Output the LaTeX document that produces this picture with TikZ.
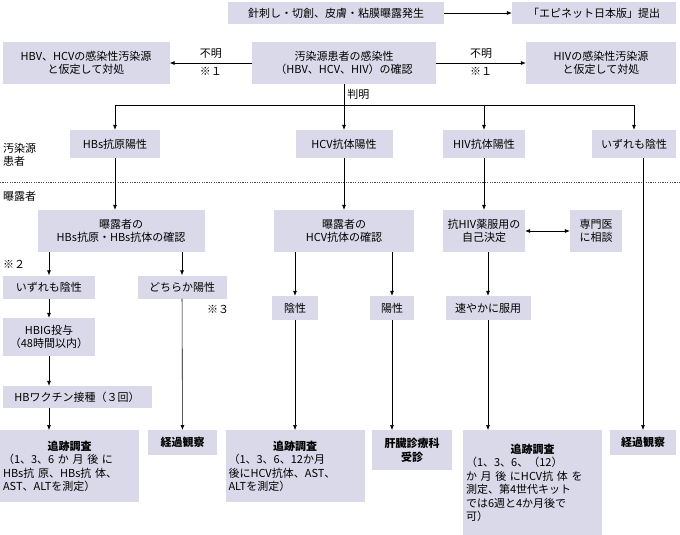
\documentclass[tikz,border=0pt]{standalone}
\usepackage{fontspec}
\setmainfont{Noto Sans CJK JP}
\usetikzlibrary{arrows.meta}
\definecolor{bx}{HTML}{D9D9E9}
\begin{document}
\begin{tikzpicture}[x=1pt,y=-1pt,
  box/.style={fill=bx,align=center,inner sep=1pt,font=\fontsize{11}{13.5}\selectfont},
  det/.style={box,align=left,anchor=north,inner xsep=3pt,inner ysep=3pt,text width=133pt},
  arr/.style={-{Latex[length=5pt,width=4pt]},line width=0.6pt},
  ln/.style={line width=0.6pt},
  lab/.style={font=\fontsize{11}{13.5}\selectfont,inner sep=0pt}]
\useasboundingbox (0,0) rectangle (680,535);
% top
\node[box,minimum width=216pt,minimum height=22pt] (a1) at (336,13) {針刺し・切創、皮膚・粘膜曝露発生};
\node[box,minimum width=164pt,minimum height=22pt] (a2) at (594,13) {「エピネット日本版」提出};
\draw[arr] (a1) -- (a2);
\node[box,minimum width=167pt,minimum height=42pt] (b1) at (86,63) {HBV、HCVの感染性汚染源\\と仮定して対処};
\node[box,minimum width=184pt,minimum height=42pt] (b2) at (344,63) {汚染源患者の感染性\\（HBV、HCV、HIV）の確認};
\node[box,minimum width=150pt,minimum height=42pt] (b3) at (601,63) {HIVの感染性汚染源\\と仮定して対処};
\draw[arr] (b2) -- node[lab,above=4pt]{不明} node[lab,below=4pt]{※１} (b1);
\draw[arr] (b2) -- node[lab,above=4pt]{不明} node[lab,below=4pt]{※１} (b3);
\coordinate (j) at (344,105);
\draw[ln] (b2) -- node[lab,right=3pt]{判明} (j);
% row 2
\node[box,minimum width=90pt,minimum height=28pt] (c1) at (115,144) {HBs抗原陽性};
\node[box,minimum width=97pt,minimum height=28pt] (c2) at (344,144) {HCV抗体陽性};
\node[box,minimum width=82pt,minimum height=28pt] (c3) at (484,144) {HIV抗体陽性};
\node[box,minimum width=84pt,minimum height=28pt] (c4) at (634,144) {いずれも陰性};
\draw[ln] (c1.north |- j) -- (c4.north |- j);
\foreach \c in {c1,c2,c3,c4} \draw[arr] (\c.north |- j) -- (\c.north);
\node[lab,align=left,anchor=north west] at (3,143) {汚染源\\患者};
\draw[dash pattern=on 1.2pt off 1.2pt,line width=0.5pt,black!70] (0,182) -- (680,182);
\node[lab,anchor=north west] at (3,191) {曝露者};
% row 3
\node[box,minimum width=167pt,minimum height=42pt] (d1) at (121,231) {曝露者の\\HBs抗原・HBs抗体の確認};
\node[box,minimum width=140pt,minimum height=42pt] (d2) at (344,231) {曝露者の\\HCV抗体の確認};
\node[box,minimum width=82pt,minimum height=42pt] (d3) at (484,231) {抗HIV薬服用の\\自己決定};
\node[box,minimum width=52pt,minimum height=42pt] (d4) at (596,231) {専門医\\に相談};
\draw[arr] (c1) -- (c1|-d1.north);
\draw[arr] (c2) -- (d2);
\draw[arr] (c3) -- (d3);
\draw[{Latex[length=5pt,width=4pt]}-{Latex[length=5pt,width=4pt]},line width=0.6pt] (d3) -- (d4);
% HB branch
\node[box,minimum width=92pt,minimum height=23pt] (e1) at (49,287) {いずれも陰性};
\node[box,minimum width=89pt,minimum height=23pt] (e2) at (182,287) {どちらか陽性};
\draw[arr] (d1.south -| e1) -- (e1);
\draw[arr] (d1.south -| e2) -- (e2);
\node[lab,anchor=west] at (3,264) {※２};
\node[lab] at (218,309) {※３};
\node[box,minimum width=92pt,minimum height=38pt] (f1) at (49,337) {HBIG投与\\（48時間以内）};
\node[box,minimum width=149pt,minimum height=22pt] (g1) at (77,397) {HBワクチン接種（３回）};
\draw[arr] (e1) -- (f1);
\draw[arr] (f1) -- (f1|-g1.north);
\node[det,minimum height=72pt] (h1) at (69.5,430) {\makebox[133pt]{\textbf{追跡調査}}\\（1、3、6 か 月 後 に\\HBs抗 原、HBs抗 体、\\AST、ALTを測定）};
\draw[arr] (f1.south|-g1.south) -- (f1.south|-h1.north);
\node[box,minimum width=69pt,minimum height=25pt,anchor=north] (h2) at (182.5,430) {\textbf{経過観察}};
\draw[arr] (e2) -- (h2);
% HCV branch
\node[box,minimum width=46pt,minimum height=24pt] (e3) at (295,308) {陰性};
\node[box,minimum width=44pt,minimum height=24pt] (e4) at (392,308) {陽性};
\draw[arr] (d2.south -| e3) -- (e3);
\draw[arr] (d2.south -| e4) -- (e4);
\node[det,minimum height=72pt] (h3) at (295,430) {\makebox[133pt]{\textbf{追跡調査}}\\（1、3、6、12か月\\後にHCV抗体、AST、\\ALTを測定）};
\draw[arr] (e3) -- (h3);
\node[box,minimum width=80pt,minimum height=40pt,anchor=north] (h4) at (412,430) {\textbf{肝臓診療科}\\\textbf{受診}};
\draw[arr] (e4) -- (e4|-h4.north);
% HIV branch
\node[box,minimum width=85pt,minimum height=24pt] (e5) at (488,308) {速やかに服用};
\draw[arr] (d3.south-|e5) -- (e5);
\node[det,minimum height=105pt] (h5) at (532.5,430) {\makebox[133pt]{\textbf{追跡調査}}\\（1、3、6、（12）\\か 月 後 にHCV抗 体 を\\測定、第4世代キット\\では6週と4か月後で\\可）};
\draw[arr] (e5) -- (e5|-h5.north);
\node[box,minimum width=66pt,minimum height=25pt,anchor=north] (h6) at (643,430) {\textbf{経過観察}};
\draw[arr] (c4.south-|h6) -- (h6);
\end{tikzpicture}
\end{document}
